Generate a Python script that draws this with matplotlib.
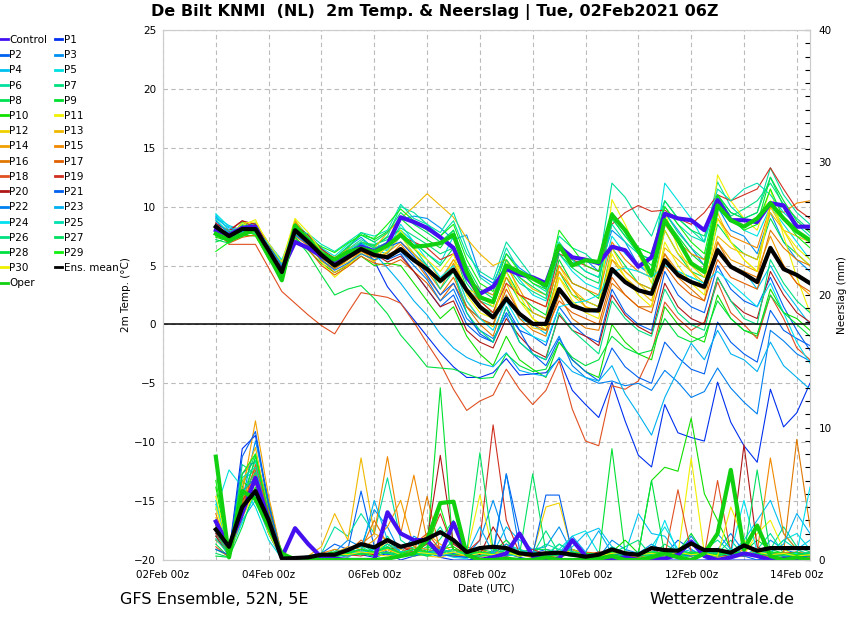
import matplotlib
matplotlib.use("Agg")
import matplotlib.pyplot as plt
import matplotlib.dates as mdates
from matplotlib.lines import Line2D
from matplotlib.ticker import MultipleLocator
import pandas as pd

# 6-hourly steps, 03Feb 00z .. 14Feb 06z
times = pd.date_range("2021-02-03 00:00", periods=46, freq="6h")

# ---- 2m temperature (degC) ----
temp_control = [8.0, 7.6, 8.2, 8.3, 6.0, 4.6, 7.0, 6.5, 5.8, 5.3, 6.0, 6.6, 6.2, 6.8, 9.1, 8.7, 8.2, 7.4, 6.5, 4.0,
                2.6, 3.2, 4.7, 4.25, 4.0, 3.5, 6.6, 5.7, 5.5, 5.2, 6.6, 6.3, 4.9, 5.7, 9.4, 9.0, 8.85, 8.0, 10.55, 8.85,
                8.85, 8.7, 10.3, 10.1, 8.3, 8.3]
temp_p1 = [7.6, 7.9, 8.3, 8.6, 6.8, 5.0, 7.0, 6.4, 5.6, 5.2, 6.2, 6.8, 5.4, 3.2, 1.8, 0.4, -1.0, -2.4, -3.6, -4.5,
           -4.5, -4.1, -2.9, -4.3, -4.2, -4.1, -2.9, -5.6, -6.8, -7.9, -4.9, -8.2, -11.1, -12.1, -6.8, -9.2, -9.6, -9.9, -4.9, -8.3,
           -10.3, -11.7, -5.5, -8.7, -7.5, -5.0]
temp_p2 = [8.6, 7.3, 7.9, 8.0, 6.2, 4.5, 7.6, 6.9, 5.8, 4.8, 5.5, 6.5, 6.2, 5.5, 6.0, 4.5, 3.0, 1.5, 2.5, 0.0,
           -1.0, -1.5, 1.0, -0.5, -1.0, -1.8, 1.5, 0.0, -1.0, -1.5, 3.0, 1.0, 0.0, -0.5, 4.5, 2.5, 1.5, 1.0, 5.0, 3.0,
           2.0, 1.5, 4.0, 1.5, -0.5, -2.2]
temp_p3 = [9.2, 8.0, 8.2, 8.6, 6.9, 5.4, 7.8, 7.3, 6.2, 5.6, 6.6, 7.4, 6.4, 7.0, 8.9, 9.2, 9.0, 8.2, 7.2, 7.6,
           4.2, 3.5, 6.0, 4.8, 4.0, 3.0, 6.5, 5.2, 5.5, 4.5, 8.0, 7.0, 5.0, 4.2, 9.5, 8.0, 6.5, 5.0, 10.0, 8.0,
           7.5, 6.0, 9.5, 7.0, 5.5, 4.5]
temp_p4 = [9.1, 8.4, 8.0, 8.2, 6.7, 5.1, 8.1, 7.6, 6.5, 5.2, 6.0, 6.8, 6.3, 6.0, 7.5, 6.0, 5.0, 3.5, 4.5, 1.5,
           0.5, 0.0, 2.5, 0.5, 0.0, -0.8, 3.0, 1.5, 1.2, 1.0, 4.5, 3.5, 3.0, 2.5, 5.5, 4.5, 4.0, 3.5, 6.5, 5.0,
           4.5, 3.0, 5.0, 3.0, 1.5, 0.0]
temp_p5 = [9.4, 8.3, 8.0, 8.2, 6.8, 5.2, 8.8, 7.5, 6.5, 5.8, 6.8, 7.6, 7.0, 6.2, 8.5, 7.0, 6.0, 5.2, 7.5, 4.0,
           3.0, 2.5, 5.5, 3.8, 2.5, 2.0, 6.0, 4.5, 3.5, 3.0, 7.5, 6.0, 5.0, 4.5, 12.0, 10.5, 9.0, 7.0, 10.5, 9.0,
           8.0, 7.5, 10.0, 8.5, 7.0, 5.5]
temp_p6 = [8.2, 7.6, 8.5, 8.3, 6.4, 4.8, 8.5, 7.2, 6.0, 5.3, 6.4, 7.2, 6.6, 7.5, 10.0, 9.5, 8.5, 7.5, 8.8, 6.0,
           4.5, 3.8, 7.0, 5.5, 4.0, 3.2, 7.5, 6.5, 6.0, 5.0, 12.0, 10.8, 9.0, 7.5, 10.5, 9.0, 8.0, 7.0, 12.1, 10.0,
           9.0, 9.5, 13.3, 11.0, 9.5, 8.5]
temp_p7 = [7.8, 7.0, 8.0, 7.8, 6.0, 4.4, 7.7, 6.8, 5.6, 5.0, 5.9, 6.9, 6.8, 7.2, 8.2, 7.5, 6.8, 6.0, 6.5, 3.5,
           2.0, 1.5, 5.0, 3.5, 2.8, 2.2, 6.8, 5.5, 4.5, 4.0, 9.0, 7.5, 6.5, 6.0, 9.5, 7.8, 6.5, 5.5, 10.8, 9.2,
           9.8, 10.5, 12.0, 10.2, 9.0, 8.0]
temp_p8 = [8.0, 7.7, 8.3, 8.4, 6.6, 5.0, 8.6, 7.5, 6.3, 5.5, 6.3, 7.0, 6.7, 7.4, 8.0, 7.0, 6.0, 5.0, 6.5, 3.0,
           1.5, 1.0, 4.0, 2.0, 1.0, 0.5, 4.5, 2.5, 2.0, 1.5, 6.5, 5.0, 3.5, 3.0, 8.0, 6.0, 4.5, 4.0, 8.5, 7.0,
           6.0, 5.5, 9.0, 7.0, 6.0, 5.0]
temp_p9 = [7.5, 7.2, 8.7, 8.0, 5.9, 4.2, 8.6, 7.3, 6.2, 5.4, 6.5, 7.8, 7.2, 7.9, 9.0, 8.0, 7.2, 6.5, 8.0, 4.5,
           2.5, 1.8, 4.5, 2.5, 1.5, 0.8, 5.5, 3.5, 3.0, 2.2, 9.5, 7.8, 6.0, 5.0, 9.0, 7.5, 6.0, 5.0, 11.0, 9.5,
           9.0, 8.5, 12.5, 10.5, 8.8, 7.8]
temp_p10 = [7.4, 7.1, 7.6, 7.5, 5.6, 3.9, 7.4, 6.3, 5.2, 4.4, 5.0, 5.8, 5.0, 5.2, 5.0, 3.5, 2.0, 0.5, 1.5, -1.0,
            -2.5, -3.5, -1.0, -3.0, -3.8, -4.5, -1.5, -3.0, -4.0, -4.5, 0.0, -1.5, -2.5, -3.0, 1.5, 0.0, -1.0, -1.5, 2.5, 0.5,
            -0.5, -1.0, 3.0, 1.0, 0.5, -0.5]
temp_p11 = [8.0, 7.8, 8.4, 8.9, 6.6, 4.0, 8.9, 7.2, 5.3, 4.0, 5.0, 6.0, 5.5, 6.2, 7.5, 6.0, 4.5, 3.5, 5.5, 3.0,
            2.5, 1.5, 5.5, 2.5, 0.5, -0.5, 5.0, 3.0, 1.5, 1.2, 10.6, 8.5, 6.0, 3.5, 9.5, 6.5, 4.5, 3.0, 12.7, 10.5,
            9.0, 8.0, 11.5, 7.5, 4.0, 1.0]
temp_p12 = [8.4, 7.4, 8.0, 8.2, 6.2, 4.8, 8.3, 6.9, 5.4, 4.8, 5.3, 6.1, 5.3, 6.8, 7.8, 6.4, 5.5, 3.8, 5.0, 2.0,
            0.5, -0.2, 3.5, 1.0, -0.3, -0.5, 4.0, 2.5, 1.5, 1.0, 6.5, 4.5, 3.5, 2.5, 8.0, 6.0, 5.0, 4.0, 9.5, 7.0,
            5.5, 4.5, 10.0, 8.0, 6.0, 5.0]
temp_p13 = [8.1, 7.6, 8.1, 8.5, 6.5, 4.6, 8.7, 7.4, 6.2, 5.7, 6.4, 7.0, 6.5, 7.8, 9.0, 10.0, 11.1, 10.1, 9.1, 7.3,
            6.0, 5.0, 5.5, 4.0, 3.0, 2.5, 4.5, 3.0, 2.0, 1.5, 5.5, 4.0, 3.0, 2.0, 6.5, 5.5, 4.5, 3.5, 7.5, 6.5,
            6.0, 5.5, 9.5, 8.0, 7.5, 7.0]
temp_p14 = [8.3, 7.5, 8.0, 8.1, 6.3, 4.9, 8.8, 7.1, 5.5, 4.4, 5.1, 6.3, 5.4, 6.1, 7.0, 6.0, 4.8, 3.8, 5.5, 4.0,
            3.0, 2.5, 5.0, 3.0, 1.0, 0.5, 4.5, 3.0, 1.5, 1.0, 5.5, 4.5, 3.5, 3.0, 6.0, 4.5, 3.5, 3.0, 7.0, 5.5,
            5.0, 4.5, 7.5, 5.0, 3.5, 2.5]
temp_p15 = [8.0, 7.3, 8.2, 8.0, 6.1, 4.7, 7.9, 6.6, 5.6, 4.9, 5.6, 6.5, 6.0, 5.6, 6.8, 5.5, 4.5, 3.0, 5.2, 3.0,
            2.0, 1.0, 4.0, 2.5, 2.0, 1.5, 5.0, 3.5, 3.0, 2.5, 7.0, 5.5, 4.5, 4.0, 8.5, 7.0, 6.0, 5.5, 9.0, 7.5,
            7.0, 6.5, 10.0, 9.5, 10.3, 10.5]
temp_p16 = [8.6, 7.0, 7.7, 7.9, 6.0, 4.3, 7.5, 6.7, 5.4, 4.7, 5.5, 6.2, 5.7, 5.9, 6.5, 5.5, 4.0, 2.5, 4.0, 1.5,
            0.0, -1.0, 2.5, 0.5, -0.5, -1.0, 2.5, 0.5, -0.3, -0.5, 3.5, 2.5, 1.5, 1.5, 6.0, 4.0, 3.0, 2.0, 7.0, 5.0,
            4.5, 4.0, 8.0, 6.5, 5.5, 5.0]
temp_p17 = [7.9, 6.9, 7.4, 7.6, 5.6, 4.1, 7.2, 6.4, 5.0, 4.2, 4.9, 5.8, 5.2, 5.0, 5.5, 4.5, 3.5, 2.0, 3.5, 1.5,
            0.5, 0.0, 3.0, 1.0, 0.0, -0.5, 2.0, 1.0, 0.5, 0.0, 4.0, 2.5, 1.5, 1.0, 5.0, 3.5, 2.5, 2.0, 5.5, 4.0,
            3.5, 3.0, 6.5, 5.0, 3.5, 2.8]
temp_p18 = [8.0, 6.8, 6.8, 6.8, 4.8, 2.8, 1.8, 0.8, -0.1, -0.8, 1.0, 2.7, 2.5, 2.3, 1.8, 0.2, -1.6, -3.3, -5.5, -7.3,
            -6.5, -6.0, -3.8, -5.5, -6.8, -5.6, -3.1, -7.2, -9.9, -10.3, -5.2, -5.5, -4.8, -2.4, 1.9, 0.5, -0.5, 0.2, 3.6, 1.0,
            0.0, -1.2, 2.5, 0.5, -2.0, -3.0]
temp_p19 = [8.5, 8.0, 8.8, 8.2, 6.6, 5.0, 8.1, 7.0, 5.9, 5.1, 5.8, 6.7, 6.3, 6.5, 7.5, 7.0, 6.5, 5.5, 6.0, 4.0,
            2.0, 1.0, 3.5, 2.5, 2.0, 1.5, 6.0, 5.5, 5.0, 4.5, 8.5, 9.5, 10.1, 9.6, 9.7, 9.0, 8.5, 9.5, 11.0, 10.5,
            11.0, 11.5, 13.3, 11.5, 9.8, 9.0]
temp_p20 = [8.6, 7.9, 8.8, 8.5, 6.7, 4.9, 8.4, 7.6, 6.4, 5.6, 6.2, 6.6, 6.0, 5.3, 5.8, 4.5, 3.0, 1.5, 2.0, -0.5,
            -1.5, -2.0, 0.5, -1.0, -2.2, -2.8, 0.8, -0.5, -1.0, -1.8, 2.5, 0.8, -0.2, -0.8, 3.5, 1.5, 0.5, 0.0, 4.0, 2.0,
            1.0, 0.5, 4.5, 2.5, 1.0, 0.2]
temp_p21 = [8.5, 7.2, 7.8, 8.0, 6.0, 4.4, 8.2, 7.2, 6.2, 5.4, 6.1, 6.9, 6.3, 6.6, 7.0, 5.8, 4.2, 2.5, 3.5, 1.0,
            -0.8, -1.5, 1.5, -0.5, -2.5, -3.5, -1.2, -3.0, -4.0, -4.8, -2.0, -3.6, -4.5, -5.0, -1.5, -2.8, -3.8, -4.2, 0.2, -1.5,
            -2.5, -3.2, 1.2, -0.5, -1.2, -1.8]
temp_p22 = [8.8, 7.7, 8.0, 8.3, 6.5, 4.2, 7.6, 6.8, 5.5, 4.6, 5.2, 6.0, 5.5, 5.8, 6.2, 5.0, 3.8, 2.0, 3.0, 0.5,
            -0.5, -1.2, 0.8, -1.5, -2.5, -3.0, -1.0, -3.5, -4.5, -5.0, -4.8, -5.2, -5.0, -5.6, -3.9, -4.9, -6.2, -5.7, -3.7, -5.4,
            -6.6, -7.6, -0.5, -1.4, -2.5, -3.1]
temp_p23 = [9.0, 8.2, 7.9, 8.0, 6.6, 5.0, 7.8, 7.4, 6.1, 5.3, 6.0, 6.5, 6.0, 4.8, 3.5, 2.0, 0.8, -0.8, -2.0, -2.8,
            -3.3, -3.6, -2.4, -3.9, -4.2, -4.4, -2.8, -4.0, -4.5, -4.8, -3.5, -5.9, -7.6, -9.4, -6.2, -3.9, -1.6, -3.0, -0.5, -2.5,
            -3.0, -4.0, -1.5, -3.5, -4.5, -5.5]
temp_p24 = [9.3, 8.0, 7.7, 8.1, 6.8, 5.5, 8.3, 7.0, 5.8, 5.4, 6.3, 7.0, 6.1, 6.4, 8.0, 7.0, 5.5, 4.0, 5.0, 2.0,
            0.5, -0.5, 2.0, 0.0, -1.0, -1.5, 1.5, 1.8, 2.0, 2.5, 4.5, 4.8, 4.5, 4.0, 5.0, 4.5, 4.0, 3.5, 4.5, 3.5,
            2.5, 1.5, 3.5, 1.0, -1.5, -3.3]
temp_p25 = [8.9, 7.8, 8.3, 8.0, 6.3, 4.6, 8.0, 7.7, 6.8, 6.2, 7.0, 7.8, 7.5, 8.0, 10.2, 9.0, 8.5, 7.8, 9.5, 6.5,
            4.0, 3.2, 6.5, 4.5, 3.5, 2.8, 7.0, 5.5, 4.5, 4.0, 8.5, 7.0, 6.0, 5.5, 10.0, 8.5, 7.5, 7.0, 11.5, 10.5,
            11.5, 12.0, 11.0, 9.5, 8.5, 7.5]
temp_p26 = [7.6, 7.2, 8.2, 8.0, 6.1, 4.5, 8.4, 7.1, 5.9, 5.0, 5.9, 7.0, 6.5, 6.9, 7.8, 6.5, 5.0, 3.0, 4.5, 1.0,
            -0.5, -1.5, 1.5, -1.5, -2.5, -3.0, 1.0, -0.5, -1.5, -2.5, 2.0, 0.5, -0.5, -1.0, 3.0, 1.0, 0.0, -0.5, 4.0, 2.0,
            0.5, 0.0, 5.5, 3.5, 2.0, 1.0]
temp_p27 = [7.2, 6.9, 7.8, 7.7, 5.8, 4.3, 8.0, 7.0, 6.2, 5.6, 6.6, 7.6, 7.0, 7.8, 9.5, 8.5, 7.8, 7.0, 8.0, 5.0,
            3.0, 2.2, 5.5, 4.0, 3.2, 2.5, 6.0, 4.8, 4.0, 3.5, 9.0, 7.5, 6.0, 5.5, 10.5, 9.0, 8.0, 7.5, 11.0, 9.5,
            9.0, 9.5, 12.5, 10.0, 8.0, 7.0]
temp_p28 = [7.0, 7.4, 8.4, 7.9, 5.8, 4.0, 7.4, 6.0, 4.2, 2.5, 3.0, 3.3, 2.2, 0.9, -0.9, -2.2, -3.6, -3.7, -3.8, -4.2,
            -4.6, -4.5, -2.5, -3.5, -4.0, -3.8, -1.5, -2.8, -3.5, -3.0, -1.0, -2.0, -2.5, -2.2, 0.5, -1.0, -1.5, -1.0, 2.0, 0.5,
            -0.5, -0.8, 2.5, 1.0, 0.0, -1.0]
temp_p29 = [6.2, 7.0, 8.0, 7.6, 5.5, 4.0, 8.5, 7.3, 6.6, 6.1, 6.9, 7.6, 7.3, 8.5, 9.8, 8.8, 8.0, 7.5, 8.5, 5.5,
            3.5, 2.8, 6.0, 4.5, 3.5, 3.0, 8.0, 6.5, 5.0, 4.5, 9.5, 8.0, 6.5, 6.0, 10.0, 8.5, 7.0, 6.0, 11.0, 9.0,
            8.0, 8.5, 11.5, 9.0, 7.5, 6.5]
temp_p30 = [8.3, 7.4, 8.6, 8.7, 6.9, 5.3, 9.0, 7.8, 6.2, 5.3, 5.9, 6.5, 5.9, 6.5, 8.0, 6.5, 5.5, 4.5, 6.0, 2.5,
            1.0, 0.5, 4.5, 2.0, 0.5, -0.2, 4.0, 2.0, 1.0, 0.5, 6.0, 4.0, 2.5, 1.5, 7.0, 5.0, 3.5, 2.5, 9.0, 7.0,
            5.5, 4.5, 10.5, 8.0, 6.5, 5.5]
temp_oper = [7.7, 7.15, 7.6, 8.1, 5.9, 3.75, 8.4, 7.15, 6.0, 5.5, 6.15, 6.45, 6.15, 6.7, 7.6, 6.6, 6.7, 6.9, 7.6, 4.5,
             2.3, 1.9, 5.0, 4.45, 3.9, 3.3, 6.7, 5.0, 5.45, 5.3, 9.3, 8.0, 6.3, 4.2, 8.85, 7.15, 5.2, 4.45, 10.1, 8.85,
             8.3, 9.0, 10.3, 9.0, 7.9, 7.15]
temp_mean = [8.3, 7.5, 8.1, 8.1, 6.3, 4.45, 8.0, 7.0, 5.9, 5.0, 5.7, 6.4, 5.9, 5.7, 6.4, 5.45, 4.7, 3.7, 4.65, 2.9,
             1.5, 0.6, 2.2, 0.9, 0.05, 0.05, 3.0, 1.6, 1.2, 1.2, 4.7, 3.6, 2.9, 2.6, 5.45, 4.2, 3.6, 3.2, 6.3, 4.9,
             4.3, 3.6, 6.5, 4.7, 4.2, 3.5]

# ---- 6-hourly precipitation (mm) ----
rain_control = [2.9, 1.0, 3.5, 6.2, 3.0, 0.2, 2.4, 1.2, 0.2, 0.1, 0.0, 0.0, 0.0, 3.6, 2.0, 1.5, 1.5, 0.4, 2.8, 0.4,
                0.0, 0.2, 0.5, 2.0, 0.3, 0.0, 0.1, 1.5, 0.3, 0.0, 0.0, 0.2, 0.0, 0.0, 0.1, 0.4, 1.4, 0.3, 0.0, 0.2,
                0.5, 0.3, 0.0, 0.1, 0.0, 0.0]
rain_p1 = [3.0, 0.5, 8.4, 9.4, 4.0, 0.2, 0.0, 0.0, 0.3, 0.5, 0.8, 0.4, 0.2, 0.5, 0.0, 0.3, 0.6, 0.2, 0.0, 0.0,
           0.1, 0.0, 0.5, 0.2, 0.0, 0.0, 0.0, 0.0, 0.0, 0.0, 0.3, 0.0, 0.0, 0.0, 0.0, 0.0, 0.0, 0.0, 0.1, 0.0,
           0.0, 0.0, 0.0, 0.0, 0.0, 0.0]
rain_p2 = [2.0, 0.6, 6.5, 7.5, 3.5, 0.3, 0.0, 0.2, 0.5, 1.2, 0.8, 5.2, 1.0, 0.6, 0.3, 0.8, 0.5, 1.0, 0.3, 0.2,
           0.5, 0.3, 6.5, 2.0, 0.5, 0.8, 0.6, 0.8, 0.3, 0.0, 0.2, 0.5, 0.3, 0.0, 0.4, 1.5, 0.8, 0.2, 0.0, 0.5,
           0.3, 0.0, 0.2, 0.6, 0.0, 0.0]
rain_p3 = [1.5, 0.8, 4.5, 9.0, 4.5, 0.4, 0.2, 0.0, 0.3, 0.6, 1.5, 1.0, 3.8, 2.5, 0.5, 1.8, 1.2, 0.5, 0.8, 0.3,
           1.5, 4.5, 1.5, 0.5, 0.8, 1.0, 2.5, 0.5, 0.3, 0.2, 1.5, 0.8, 0.5, 1.2, 0.6, 0.4, 1.8, 0.5, 0.8, 2.0,
           0.6, 0.3, 1.5, 0.8, 0.5, 0.3]
rain_p4 = [4.5, 0.5, 6.0, 6.8, 2.5, 0.2, 0.0, 0.3, 0.1, 0.4, 0.2, 0.8, 0.5, 1.2, 0.8, 1.5, 0.6, 0.8, 0.5, 0.2,
           0.3, 0.5, 2.5, 1.5, 0.8, 0.3, 0.5, 1.0, 2.0, 2.4, 1.0, 0.5, 3.5, 2.0, 1.8, 0.5, 0.8, 0.3, 0.6, 0.4,
           1.5, 3.0, 4.5, 2.0, 0.8, 1.5]
rain_p5 = [3.8, 6.8, 5.5, 4.0, 1.5, 0.1, 0.0, 0.2, 0.4, 0.3, 0.5, 0.6, 0.8, 1.0, 0.5, 0.3, 0.8, 0.5, 0.2, 0.1,
           0.6, 0.5, 1.2, 0.8, 0.3, 0.2, 0.8, 1.8, 2.2, 0.5, 0.3, 0.6, 0.2, 1.0, 2.5, 0.8, 0.5, 0.6, 0.3, 0.2,
           0.4, 0.8, 0.5, 1.5, 2.0, 0.8]
rain_p6 = [1.8, 0.4, 4.8, 7.5, 3.8, 0.3, 0.1, 0.0, 0.5, 2.5, 1.8, 3.5, 2.0, 6.2, 1.5, 0.8, 1.2, 2.5, 0.8, 0.5,
           0.3, 0.4, 0.8, 0.3, 0.5, 1.2, 0.8, 0.5, 0.2, 0.4, 0.3, 0.3, 0.1, 0.4, 0.6, 0.2, 0.3, 0.8, 1.5, 0.6,
           0.4, 0.8, 2.0, 0.5, 0.3, 0.4]
rain_p7 = [2.5, 0.3, 7.2, 6.5, 3.0, 0.1, 0.0, 0.0, 0.2, 0.8, 0.5, 1.2, 0.6, 1.8, 0.4, 1.0, 0.5, 1.6, 3.0, 0.5,
           0.8, 0.3, 1.0, 0.5, 0.4, 2.2, 0.5, 0.8, 0.3, 0.2, 0.5, 1.0, 1.5, 0.3, 1.2, 0.6, 0.4, 0.8, 0.5, 1.5,
           0.3, 0.5, 0.8, 2.5, 1.0, 0.6]
rain_p8 = [1.2, 0.2, 5.5, 8.0, 3.2, 0.2, 0.0, 0.1, 0.0, 0.2, 0.5, 0.4, 1.0, 0.8, 0.3, 0.5, 1.0, 0.6, 0.4, 0.3,
           0.5, 0.2, 0.8, 0.6, 0.8, 0.8, 0.5, 0.3, 0.6, 0.2, 0.4, 0.5, 0.3, 0.6, 0.4, 0.8, 0.5, 0.3, 0.2, 0.6,
           0.4, 0.5, 0.3, 0.4, 0.5, 0.2]
rain_p9 = [0.8, 0.3, 4.2, 7.8, 4.2, 0.5, 0.0, 0.0, 0.3, 0.2, 0.6, 0.5, 0.3, 0.9, 0.5, 0.4, 0.8, 13.0, 0.5, 0.3,
           0.8, 0.6, 1.5, 0.4, 0.2, 0.3, 1.2, 0.6, 0.3, 0.2, 8.4, 0.5, 0.3, 1.0, 0.5, 0.6, 2.0, 0.5, 0.8, 0.3,
           0.6, 1.5, 0.8, 0.5, 0.3, 0.4]
rain_p10 = [5.5, 0.4, 6.0, 5.0, 2.0, 0.1, 0.0, 0.2, 0.4, 0.3, 0.5, 0.8, 0.6, 1.2, 0.5, 0.3, 0.6, 0.8, 1.0, 0.4,
            0.5, 0.3, 0.6, 0.4, 0.3, 0.5, 0.4, 0.8, 0.5, 0.3, 0.6, 1.5, 0.5, 6.0, 7.0, 6.7, 10.7, 5.0, 3.0, 0.8,
            0.5, 0.3, 0.4, 0.6, 0.2, 0.3]
rain_p11 = [4.8, 0.5, 3.5, 5.5, 2.2, 0.2, 0.0, 0.1, 0.3, 0.5, 0.8, 0.6, 0.4, 1.5, 0.5, 0.3, 0.4, 0.6, 0.3, 0.5,
            4.9, 0.6, 0.4, 0.3, 0.5, 0.2, 0.4, 0.6, 0.3, 0.2, 0.3, 0.5, 0.4, 0.3, 0.5, 0.4, 7.7, 0.5, 0.3, 0.6,
            0.4, 2.0, 3.0, 0.8, 0.3, 0.5]
rain_p12 = [3.2, 0.2, 4.0, 6.0, 2.8, 0.3, 0.0, 0.0, 0.2, 0.5, 0.3, 0.6, 0.4, 0.3, 0.5, 0.6, 0.3, 0.2, 0.5, 0.3,
            0.2, 0.4, 0.5, 0.3, 0.5, 4.0, 4.3, 0.6, 0.4, 0.3, 0.4, 0.2, 0.5, 0.3, 0.4, 0.6, 0.3, 0.5, 0.4, 0.2,
            0.3, 0.5, 0.4, 0.6, 0.3, 0.2]
rain_p13 = [2.2, 0.4, 5.8, 8.5, 3.5, 0.2, 0.0, 0.3, 1.0, 3.5, 1.5, 7.7, 2.0, 1.5, 0.8, 0.5, 2.0, 1.2, 0.6, 0.4,
            0.3, 0.5, 0.3, 0.4, 0.2, 0.5, 0.3, 0.8, 0.4, 0.2, 0.5, 0.3, 0.2, 0.4, 0.6, 0.3, 0.5, 0.3, 0.2, 0.4,
            0.6, 0.5, 0.3, 0.2, 0.4, 0.3]
rain_p14 = [1.5, 0.6, 5.0, 10.5, 4.8, 0.4, 0.2, 0.0, 0.3, 0.5, 1.0, 0.8, 1.5, 2.5, 4.5, 1.0, 0.8, 0.5, 0.3, 0.6,
            0.4, 0.3, 0.5, 0.8, 0.4, 0.3, 0.6, 0.4, 0.3, 0.5, 0.8, 0.4, 0.3, 0.6, 0.5, 0.4, 0.3, 0.5, 0.6, 0.3,
            0.8, 2.5, 0.5, 0.3, 0.6, 0.4]
rain_p15 = [2.8, 0.3, 4.5, 7.0, 3.0, 0.3, 0.0, 0.2, 0.5, 0.8, 0.6, 1.2, 2.0, 7.8, 2.0, 6.4, 1.5, 0.8, 0.5, 0.3,
            0.6, 0.4, 0.3, 0.5, 0.4, 0.6, 0.3, 0.5, 0.4, 0.3, 0.5, 0.6, 0.4, 0.3, 0.5, 0.4, 0.6, 0.3, 0.5, 0.4,
            0.3, 0.6, 7.7, 2.0, 0.8, 0.3]
rain_p16 = [3.5, 0.5, 4.2, 6.5, 2.6, 0.2, 0.1, 0.3, 0.2, 0.6, 0.4, 0.8, 3.0, 1.2, 0.5, 0.4, 4.8, 0.6, 0.3, 0.5,
            0.8, 0.4, 1.2, 0.6, 0.3, 0.5, 0.4, 0.3, 0.6, 0.5, 0.3, 0.4, 0.5, 0.3, 0.6, 0.4, 0.5, 0.3, 0.4, 0.6,
            0.5, 0.3, 0.4, 0.6, 9.1, 2.5]
rain_p17 = [2.6, 0.7, 3.8, 7.2, 3.3, 0.3, 0.0, 0.2, 0.5, 0.3, 0.6, 1.5, 0.8, 0.5, 1.0, 0.8, 0.6, 0.4, 0.5, 0.3,
            0.6, 0.5, 0.4, 0.3, 0.5, 0.6, 0.4, 0.5, 0.3, 0.6, 0.4, 0.3, 0.5, 0.4, 0.3, 0.5, 0.4, 0.6, 0.3, 0.5,
            1.2, 0.4, 0.3, 0.5, 0.4, 0.6]
rain_p18 = [1.0, 0.2, 3.2, 6.8, 3.8, 0.5, 0.0, 0.0, 0.2, 0.4, 0.3, 0.5, 0.6, 0.8, 0.5, 1.2, 2.0, 0.8, 0.5, 1.0,
            0.6, 0.4, 0.3, 0.5, 0.2, 0.3, 0.2, 0.5, 0.3, 0.2, 0.4, 0.3, 0.2, 0.5, 0.3, 5.3, 0.6, 0.4, 6.0, 0.5,
            0.3, 0.4, 0.2, 0.5, 0.3, 0.2]
rain_p19 = [2.0, 0.5, 4.5, 5.8, 2.0, 0.1, 0.0, 0.1, 0.3, 0.5, 0.4, 0.3, 0.6, 0.8, 0.5, 0.6, 1.2, 3.5, 0.8, 0.6,
            1.5, 10.2, 3.0, 0.5, 0.8, 0.4, 0.6, 0.3, 0.5, 0.4, 0.6, 0.5, 0.3, 0.8, 0.4, 0.5, 0.3, 0.6, 0.4, 0.5,
            0.3, 0.6, 0.4, 0.5, 0.6, 0.3]
rain_p20 = [1.8, 0.3, 3.6, 5.2, 2.4, 0.2, 0.0, 0.2, 0.4, 0.3, 0.5, 0.6, 0.4, 0.8, 1.0, 0.6, 1.5, 7.9, 1.2, 0.5,
            0.4, 2.5, 0.8, 0.6, 0.4, 0.3, 0.5, 0.4, 0.3, 0.6, 0.5, 0.3, 0.4, 0.5, 0.3, 0.4, 0.6, 0.5, 0.3, 0.4,
            8.7, 1.0, 0.5, 0.3, 0.4, 0.5]
rain_p21 = [0.8, 0.4, 7.8, 9.7, 4.2, 0.3, 0.0, 0.1, 0.2, 0.4, 0.6, 0.5, 0.8, 0.4, 0.6, 0.3, 0.5, 0.4, 0.3, 0.2,
            0.5, 0.4, 0.3, 0.5, 0.4, 4.9, 4.9, 0.5, 0.3, 0.2, 0.4, 0.3, 0.5, 0.4, 0.3, 0.5, 0.4, 0.3, 0.5, 0.4,
            0.3, 0.5, 0.4, 0.3, 0.2, 0.3]
rain_p22 = [2.4, 0.6, 5.2, 6.2, 2.8, 0.2, 0.2, 0.3, 0.5, 0.4, 0.6, 0.8, 0.5, 1.0, 0.4, 0.5, 0.6, 0.8, 0.5, 0.4,
            0.3, 0.6, 6.5, 0.8, 0.4, 0.5, 0.3, 0.6, 0.4, 0.5, 0.3, 0.4, 0.6, 0.3, 0.5, 0.4, 0.3, 0.5, 0.4, 0.6,
            0.3, 0.4, 0.5, 0.3, 0.4, 0.5]
rain_p23 = [3.0, 0.5, 3.0, 4.5, 2.0, 0.1, 0.0, 0.2, 0.4, 0.5, 0.3, 0.6, 4.5, 1.5, 0.6, 0.4, 0.5, 0.3, 0.6, 0.4,
            2.5, 0.5, 1.2, 0.6, 0.4, 0.3, 0.5, 1.8, 0.6, 2.2, 0.5, 0.4, 0.6, 0.5, 0.3, 0.4, 0.6, 0.5, 2.0, 0.8,
            0.5, 0.4, 0.6, 1.2, 3.5, 2.0]
rain_p24 = [4.2, 0.5, 2.8, 5.0, 2.2, 0.2, 0.0, 0.3, 0.2, 0.4, 0.5, 0.6, 0.8, 0.5, 0.4, 0.6, 0.3, 0.5, 0.4, 0.6,
            0.3, 0.5, 0.4, 0.3, 0.6, 0.5, 0.4, 0.3, 0.5, 0.4, 0.6, 0.5, 0.3, 0.4, 3.0, 0.5, 0.6, 0.4, 0.3, 0.5,
            4.5, 0.6, 0.4, 0.3, 0.5, 5.5]
rain_p25 = [1.6, 0.4, 6.2, 7.0, 3.0, 0.2, 0.0, 0.2, 0.4, 0.6, 0.8, 1.0, 0.5, 1.2, 0.6, 0.8, 0.5, 0.8, 0.6, 0.4,
            0.5, 0.3, 0.6, 0.8, 0.5, 0.4, 1.2, 0.6, 0.4, 0.3, 1.0, 0.5, 0.4, 0.6, 0.8, 0.5, 0.4, 0.6, 0.5, 0.8,
            0.4, 0.6, 0.5, 1.5, 0.8, 0.4]
rain_p26 = [2.2, 0.3, 5.0, 6.6, 3.2, 0.2, 0.0, 0.1, 0.3, 0.5, 0.6, 0.8, 0.6, 0.9, 0.5, 0.4, 0.6, 0.5, 0.8, 0.4,
            0.6, 0.5, 0.4, 0.6, 0.3, 0.5, 0.4, 0.6, 0.5, 0.3, 0.4, 0.6, 0.5, 0.4, 0.6, 0.3, 0.5, 0.4, 0.6, 0.3,
            0.5, 0.4, 0.6, 0.5, 0.4, 0.6]
rain_p27 = [0.5, 0.2, 3.8, 6.0, 2.6, 0.3, 0.0, 0.0, 0.2, 0.3, 0.5, 0.4, 0.6, 0.5, 0.3, 0.6, 0.4, 0.5, 1.5, 0.6,
            8.1, 0.8, 0.5, 0.4, 6.5, 0.6, 0.4, 0.3, 0.5, 0.4, 0.6, 0.5, 0.3, 0.4, 0.5, 0.6, 0.4, 0.3, 0.5, 0.6,
            0.4, 6.8, 0.5, 0.3, 0.4, 0.5]
rain_p28 = [0.3, 0.2, 2.5, 5.5, 2.5, 0.2, 0.0, 0.1, 0.2, 0.3, 0.4, 0.5, 0.3, 0.6, 0.4, 0.5, 0.3, 0.6, 0.4, 0.5,
            0.3, 0.4, 0.6, 0.3, 0.5, 0.4, 0.3, 0.6, 0.4, 0.5, 0.3, 0.4, 0.5, 6.0, 0.4, 0.3, 0.5, 0.4, 0.3, 0.6,
            0.4, 0.5, 0.3, 0.4, 0.6, 0.3]
rain_p29 = [6.0, 0.3, 6.5, 8.0, 3.5, 0.5, 0.2, 0.0, 0.4, 0.6, 0.5, 0.8, 0.6, 1.0, 0.5, 0.8, 0.6, 4.0, 0.8, 0.5,
            0.6, 0.4, 0.5, 0.6, 0.4, 0.5, 0.6, 0.4, 0.5, 0.3, 0.6, 0.5, 0.4, 0.6, 0.5, 0.4, 0.6, 0.5, 0.4, 0.6,
            0.5, 0.4, 0.6, 0.5, 0.4, 0.3]
rain_p30 = [4.0, 0.4, 3.2, 5.2, 2.0, 0.2, 0.0, 0.2, 0.3, 0.5, 0.4, 0.6, 0.5, 0.8, 0.4, 0.6, 0.5, 0.4, 0.6, 0.3,
            0.5, 0.4, 0.6, 0.3, 0.5, 0.4, 0.6, 0.5, 0.4, 0.3, 0.5, 0.6, 0.4, 0.5, 0.3, 0.6, 0.4, 0.5, 0.3, 4.0,
            1.5, 0.6, 0.4, 0.5, 0.3, 0.4]
rain_oper = [7.8, 0.2, 5.2, 4.6, 2.5, 0.5, 0.0, 0.0, 0.0, 0.0, 0.0, 0.0, 0.0, 0.1, 0.3, 0.5, 1.5, 4.3, 4.4, 0.4,
             0.0, 0.0, 0.1, 0.0, 0.0, 0.2, 0.0, 0.0, 0.0, 0.1, 0.3, 0.0, 0.0, 0.2, 0.5, 0.2, 0.0, 0.5, 2.0, 6.8,
             0.8, 2.6, 0.3, 0.0, 0.2, 0.0]
rain_mean = [2.3, 1.0, 4.0, 5.2, 3.0, 0.1, 0.15, 0.2, 0.4, 0.4, 0.75, 1.2, 0.95, 1.5, 1.0, 1.25, 1.6, 2.1, 1.5, 0.6,
             0.9, 1.0, 0.9, 0.5, 0.4, 0.5, 0.55, 0.4, 0.25, 0.4, 0.8, 0.5, 0.4, 0.9, 0.75, 0.7, 1.25, 0.75, 0.75, 0.55,
             1.1, 0.7, 0.9, 0.9, 0.9, 0.9]

member_names = ["P%d" % k for k in range(1, 31)]
member_colors = ["#0030f0", "#0060f0", "#0090f0", "#00c0f0", "#00e0e0", "#00e0a0", "#00e080", "#00e050",
                 "#00e030", "#10e000", "#f0f000", "#f0d000", "#f0b800", "#f0a000", "#f08800", "#e07800",
                 "#e06000", "#e05020", "#d03020", "#b01818", "#0060f0", "#0080f0", "#00b0f0", "#00e0f0",
                 "#00e0b0", "#00e080", "#00e060", "#00e040", "#10f010", "#f0f000"]
member_temp = [temp_p1, temp_p2, temp_p3, temp_p4, temp_p5, temp_p6, temp_p7, temp_p8, temp_p9, temp_p10,
               temp_p11, temp_p12, temp_p13, temp_p14, temp_p15, temp_p16, temp_p17, temp_p18, temp_p19, temp_p20,
               temp_p21, temp_p22, temp_p23, temp_p24, temp_p25, temp_p26, temp_p27, temp_p28, temp_p29, temp_p30]
member_rain = [rain_p1, rain_p2, rain_p3, rain_p4, rain_p5, rain_p6, rain_p7, rain_p8, rain_p9, rain_p10,
               rain_p11, rain_p12, rain_p13, rain_p14, rain_p15, rain_p16, rain_p17, rain_p18, rain_p19, rain_p20,
               rain_p21, rain_p22, rain_p23, rain_p24, rain_p25, rain_p26, rain_p27, rain_p28, rain_p29, rain_p30]
control_color = "#4510f0"
oper_color = "#10d010"

plt.rcParams["font.family"] = "DejaVu Sans"
fig = plt.figure(figsize=(8.5, 6.2), dpi=100)
ax = fig.add_axes([163 / 850, 1 - 560 / 620, 647 / 850, 530 / 620])
ax2 = ax.twinx()

for vals, col in zip(member_temp, member_colors):
    ax.plot(times, vals, color=col, lw=0.8)
ax.axhline(0, color="black", lw=1.1, zorder=3)
ax.plot(times, temp_control, color=control_color, lw=3, zorder=4)
ax.plot(times, temp_oper, color=oper_color, lw=3, zorder=4)
ax.plot(times, temp_mean, color="black", lw=3, zorder=5)

for vals, col in zip(member_rain, member_colors):
    ax2.plot(times, vals, color=col, lw=0.8)
ax2.plot(times, rain_control, color=control_color, lw=3)
ax2.plot(times, rain_oper, color=oper_color, lw=3)
ax2.plot(times, rain_mean, color="black", lw=3)

ax.set_xlim(pd.Timestamp("2021-02-02 00:00"), pd.Timestamp("2021-02-14 06:00"))
ax.set_ylim(-20, 25)
ax2.set_ylim(0, 40)

ax.xaxis.set_major_locator(mdates.DayLocator(bymonthday=[2, 4, 6, 8, 10, 12, 14]))
ax.xaxis.set_minor_locator(mdates.DayLocator())
ax.xaxis.set_major_formatter(mdates.DateFormatter("%d%b %Hz"))
ax.yaxis.set_major_locator(MultipleLocator(5))
ax.grid(True, which="both", color="#bbbbbb", linestyle=(0, (4, 3)), lw=0.8)
ax.tick_params(axis="both", which="both", length=0, labelsize=7.5, colors="black")
ax.tick_params(axis="x", pad=7)
ax.tick_params(axis="y", pad=5)

ax2.yaxis.set_major_locator(MultipleLocator(10))
ax2.yaxis.set_minor_locator(MultipleLocator(1))
ax2.tick_params(axis="y", which="both", direction="in", length=3.5, width=0.8, labelsize=7.5, pad=6)

for a in (ax, ax2):
    for sp in a.spines.values():
        sp.set_color("#cccccc")

ax.set_ylabel("2m Temp. (°C)", fontsize=7.5, labelpad=2)
ax2.set_ylabel("Neerslag (mm)", fontsize=7.5, labelpad=4)
ax.set_xlabel("Date (UTC)", fontsize=7.5, labelpad=3)

fig.text(435 / 850, 1 - 12 / 620, "De Bilt KNMI  (NL)  2m Temp. & Neerslag | Tue, 02Feb2021 06Z",
         ha="center", va="center", fontsize=11.5, fontweight="bold")
fig.text(120 / 850, 1 - 599 / 620, "GFS Ensemble, 52N, 5E", ha="left", va="center", fontsize=11.5)
fig.text(794 / 850, 1 - 599 / 620, "Wetterzentrale.de", ha="right", va="center", fontsize=11.5)

# legend: two columns, row order Control, P1 / P2, P3 / ... / P30, Ens. mean / Oper
all_names = ["Control"] + member_names + ["Ens. mean", "Oper"]
all_colors = [control_color] + member_colors + ["black", oper_color]
left_col = [0] + list(range(2, 31, 2)) + [32]
right_col = list(range(1, 31, 2)) + [31]
order = left_col + right_col
handles = [Line2D([], [], color=all_colors[k], lw=2) for k in order]
labels = [all_names[k] for k in order]
fig.legend(handles, labels, loc="upper left", bbox_to_anchor=(0.0, 1 - 35 / 620), ncol=2,
           frameon=False, fontsize=7.5, handlelength=0.75, handletextpad=0.15, columnspacing=0.7,
           labelspacing=0.5, borderaxespad=0, borderpad=0)

fig.savefig("out.png", dpi=100)
